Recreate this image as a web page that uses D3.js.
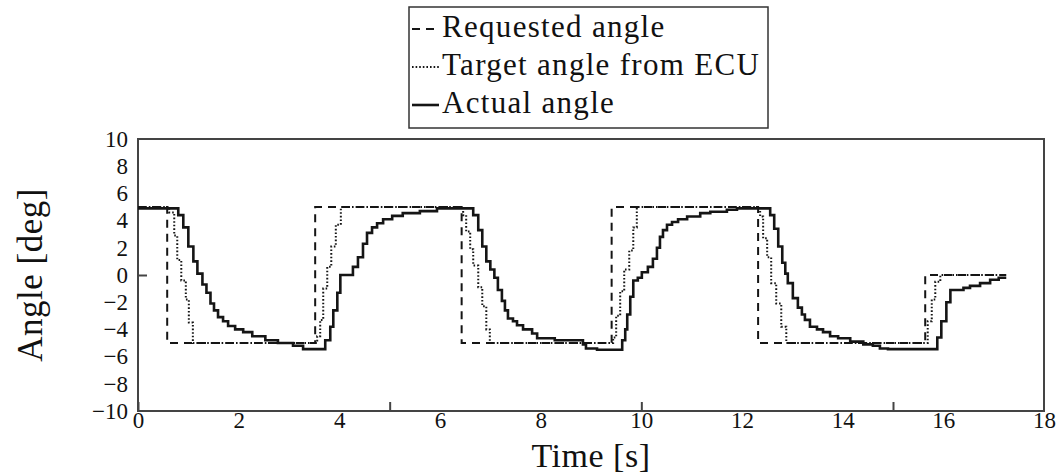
<!DOCTYPE html>
<html>
<head>
<meta charset="utf-8">
<script src="https://cdn.jsdelivr.net/npm/d3@7"></script>
<style>
  body { margin: 0; background: #fff; }
  svg text { font-family: "Liberation Serif", "DejaVu Serif", serif !important; fill: #111; }
</style>
</head>
<body>
<svg id="chart" width="1059" height="475"></svg>
<script>
// Requested angle (step changes)
var reqT = [0, 0.58, 3.52, 6.43, 9.41, 12.32, 15.64, 17.25];
var reqV = [5, -5, 5, -5, 5, -5, 0, 0];

// Target angle from ECU
var ecuT = [0, 0.62, 0.72, 0.78, 0.86, 0.95, 1.01, 1.09,
  3.56, 3.62, 3.68, 3.76, 3.84, 3.93, 4.03,
  6.46, 6.52, 6.60, 6.66, 6.76, 6.84, 6.92, 6.99,
  9.44, 9.50, 9.58, 9.66, 9.76, 9.84, 9.91,
  12.36, 12.42, 12.50, 12.58, 12.68, 12.78, 12.88,
  15.69, 15.77, 15.84, 15.94, 17.25];
var ecuV = [5, 4.6, 2.9, 1.1, -0.4, -1.8, -3.5, -5,
  -4.5, -3.3, -1.0, 0.6, 2.1, 3.7, 5,
  4.4, 3.2, 1.9, 0.7, -0.9, -2.3, -4.0, -5,
  -4.6, -3.0, -1.2, 0.4, 1.8, 3.5, 5,
  4.3, 2.7, 1.3, -0.6, -2.1, -3.8, -5,
  -3.4, -1.8, -0.5, 0, 0];

// Actual angle
var actT = [0, 0.80, 0.90, 1.00, 1.10, 1.18, 1.28, 1.36, 1.44, 1.51, 1.59, 1.69, 1.79, 1.93, 2.09, 2.27, 2.53, 2.78, 3.08, 3.28,
  3.72, 3.82, 3.88, 3.96, 4.02, 4.27, 4.37, 4.47, 4.55, 4.65, 4.75, 4.87, 5.05, 5.26, 5.60, 5.94,
  6.66, 6.76, 6.84, 6.92, 7.00, 7.08, 7.15, 7.23, 7.29, 7.35, 7.45, 7.53, 7.65, 7.83, 7.93, 8.28, 8.84, 8.90, 9.12,
  9.62, 9.68, 9.72, 9.78, 9.84, 9.93, 10.01, 10.13, 10.23, 10.31, 10.37, 10.43, 10.51, 10.61, 10.73, 10.91, 11.17, 11.37, 11.70, 11.90,
  12.56, 12.64, 12.72, 12.80, 12.86, 12.91, 13.01, 13.11, 13.19, 13.25, 13.35, 13.49, 13.61, 13.75, 13.91, 14.15, 14.41, 14.60, 14.74, 14.90,
  15.88, 15.96, 16.06, 16.14, 16.40, 16.53, 16.73, 16.93, 17.10, 17.25];
var actV = [4.9, 4.4, 3.5, 2.1, 1.0, 0.1, -0.7, -1.3, -2.1, -2.6, -3.1, -3.4, -3.75, -4.0, -4.2, -4.5, -4.8, -5.0, -5.2, -5.45,
  -4.8, -3.8, -2.6, -1.3, 0.0, 0.6, 1.3, 2.3, 3.1, 3.5, 3.8, 4.1, 4.35, 4.55, 4.7, 4.9,
  4.4, 3.3, 2.1, 1.0, 0.4, -0.2, -1.1, -1.9, -2.6, -3.2, -3.4, -3.7, -4.0, -4.3, -4.65, -4.8, -5.1, -5.4, -5.5,
  -4.8, -4.0, -2.9, -1.6, -0.4, -0.2, 0.2, 0.6, 1.2, 2.0, 2.8, 3.3, 3.7, 3.9, 4.1, 4.3, 4.55, 4.65, 4.8, 4.9,
  4.4, 3.4, 2.1, 0.9, 0.1, -0.6, -1.7, -2.4, -2.9, -3.3, -3.8, -4.0, -4.2, -4.5, -4.65, -4.9, -5.1, -5.2, -5.4, -5.45,
  -4.6, -3.4, -2.0, -1.1, -0.95, -0.8, -0.6, -0.35, -0.2, -0.2];

var xLabels = [0, 2, 4, 6, 8, 10, 12, 14, 16, 18];
var yLabels = [-10, -8, -6, -4, -2, 0, 2, 4, 6, 8, 10];
var legendNames = ['Requested angle', 'Target angle from ECU', 'Actual angle'];

var svg = d3.select('#chart');
var pLeft = 138, pRight = 1044, pTop = 139, pBottom = 411;

var x = d3.scaleLinear().domain([0, 18]).range([pLeft, pRight]);
var y = d3.scaleLinear().domain([-10, 10]).range([pBottom, pTop]);

function zip(t, v) { return t.map(function(d, i) { return [d, v[i]]; }); }

var line = d3.line()
  .x(function(d) { return x(d[0]); })
  .y(function(d) { return y(d[1]); })
  .curve(d3.curveStepAfter);

var styles = [
  {dash: '8,6', width: 2},
  {dash: '1.6,2', width: 2},
  {dash: null, width: 2.6}
];
var series = [zip(reqT, reqV), zip(ecuT, ecuV), zip(actT, actV)];

// frame
svg.append('rect')
  .attr('x', pLeft).attr('y', pTop)
  .attr('width', pRight - pLeft).attr('height', pBottom - pTop)
  .attr('fill', 'none').attr('stroke', '#444').attr('stroke-width', 2);

// inner ticks
svg.append('g').attr('transform', 'translate(0,' + pBottom + ')')
  .call(d3.axisBottom(x).tickValues([0, 5, 10, 15]).tickSize(-9).tickFormat(''))
  .call(function(g) { g.select('.domain').remove(); g.selectAll('line').attr('stroke', '#444').attr('stroke-width', 2); });
svg.append('g').attr('transform', 'translate(' + pLeft + ',0)')
  .call(d3.axisLeft(y).tickValues([0]).tickSize(-9).tickFormat(''))
  .call(function(g) { g.select('.domain').remove(); g.selectAll('line').attr('stroke', '#444').attr('stroke-width', 2); });

// tick labels
svg.append('g').attr('transform', 'translate(0,' + pBottom + ')')
  .call(d3.axisBottom(x).tickValues(xLabels).tickSize(0).tickPadding(1))
  .call(function(g) {
    g.select('.domain').remove();
    g.selectAll('text').style('font-size', '23px');
  });
svg.append('g').attr('transform', 'translate(' + pLeft + ',0)')
  .call(d3.axisLeft(y).tickValues(yLabels).tickSize(0).tickPadding(10))
  .call(function(g) {
    g.select('.domain').remove();
    g.selectAll('text').style('font-size', '23px');
  });

// axis titles
svg.append('text')
  .attr('x', (pLeft + pRight) / 2).attr('y', 467)
  .attr('text-anchor', 'middle').style('font-size', '34px')
  .style('letter-spacing', '0.5px')
  .text('Time [s]');
svg.append('text')
  .attr('transform', 'translate(42,' + ((pTop + pBottom) / 2) + ') rotate(-90)')
  .attr('text-anchor', 'middle').style('font-size', '35px')
  .style('letter-spacing', '0.5px')
  .text('Angle [deg]');

// lines
svg.selectAll('path.series').data(series).enter()
  .append('path')
  .attr('class', 'series')
  .attr('d', line)
  .attr('fill', 'none')
  .attr('stroke', '#151515')
  .attr('stroke-width', function(d, i) { return styles[i].width; })
  .attr('stroke-dasharray', function(d, i) { return styles[i].dash; });

// legend
var lg = svg.append('g');
lg.append('rect')
  .attr('x', 409).attr('y', 7).attr('width', 359).attr('height', 121)
  .attr('fill', '#fff').attr('stroke', '#333').attr('stroke-width', 1.5);
legendNames.forEach(function(name, i) {
  var base = 37 + i * 38;
  lg.append('line')
    .attr('x1', 412).attr('x2', 439)
    .attr('y1', base - 8).attr('y2', base - 8)
    .attr('stroke', '#151515')
    .attr('stroke-width', styles[i].width)
    .attr('stroke-dasharray', styles[i].dash);
  lg.append('text')
    .attr('x', 442).attr('y', base)
    .style('font-size', '31px')
    .style('letter-spacing', '1.3px')
    .text(name);
});
</script>
</body>
</html>
